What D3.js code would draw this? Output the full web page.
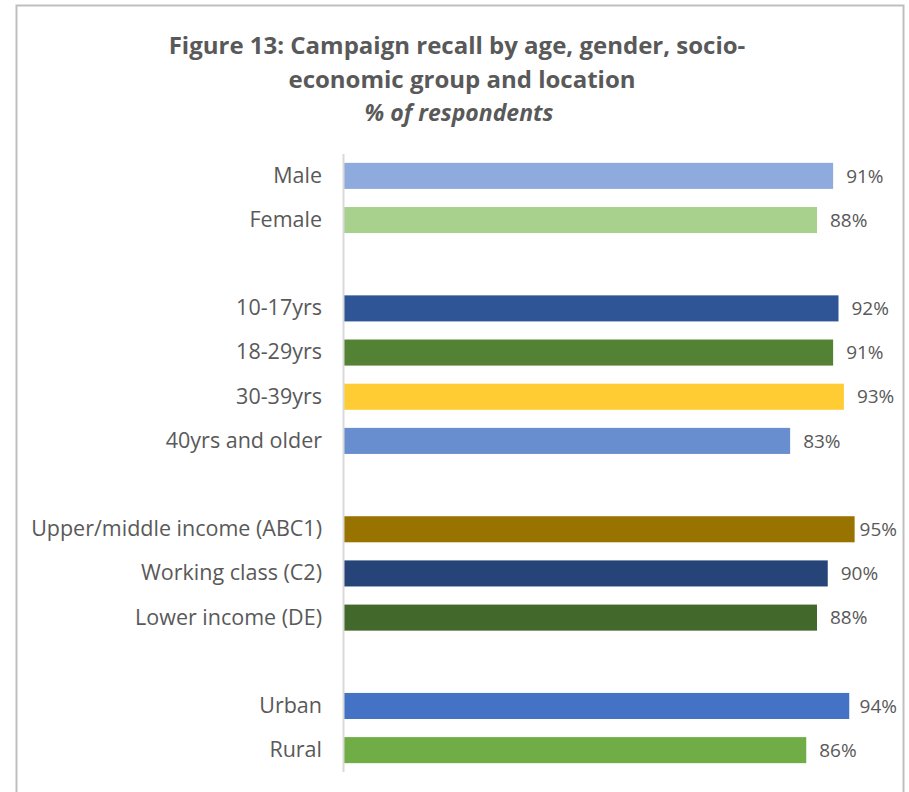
<!DOCTYPE html>
<html>
<head>
<meta charset="utf-8">
<script src="https://cdn.jsdelivr.net/npm/d3@7/dist/d3.min.js"></script>
<style>
  html, body { margin: 0; padding: 0; background: #ffffff; }
  svg { display: block; }
  text { font-family: "Open Sans", Lato, sans-serif; }
</style>
</head>
<body>
<svg id="chart" width="909" height="792"></svg>
<script>
// Category labels, top to bottom; empty strings are spacer rows between groups
const categories = [
  "Male", "Female", "",
  "10-17yrs", "18-29yrs", "30-39yrs", "40yrs and older", "",
  "Upper/middle income (ABC1)", "Working class (C2)", "Lower income (DE)", "",
  "Urban", "Rural"
];
// Campaign recall, % of respondents (null for spacer rows)
const values = [91, 88, null, 92, 91, 93, 83, null, 95, 90, 88, null, 94, 86];
const colors = [
  "#8FAADC", "#A9D18E", null,
  "#2F5597", "#548235", "#FFCC33", "#698ED0", null,
  "#997300", "#264478", "#43682B", null,
  "#4472C4", "#70AD47"
];
const titleLines = [
  "Figure 13: Campaign recall by age, gender, socio-",
  "economic group and location"
];
const subtitle = "% of respondents";

const svg = d3.select("#chart");
const textColor = "#595959";

// Outer chart frame
svg.append("rect")
  .attr("x", 16.5).attr("y", 5.5)
  .attr("width", 887).attr("height", 800)
  .attr("fill", "#ffffff")
  .attr("stroke", "#bfbfbf").attr("stroke-width", 2);

// Title
const titleX = [457, 462];
titleLines.forEach((t, i) => {
  svg.append("text")
    .attr("x", titleX[i]).attr("y", 54 + i * 34)
    .attr("text-anchor", "middle")
    .attr("font-size", 24).attr("font-weight", "bold")
    .attr("fill", textColor)
    .text(t);
});
svg.append("text")
  .attr("x", 459).attr("y", 121)
  .attr("text-anchor", "middle")
  .attr("font-size", 23).attr("font-weight", "bold").attr("font-style", "italic")
  .attr("fill", textColor)
  .text(subtitle);

// Scales
const idx = d3.range(categories.length);
const y = d3.scaleBand().domain(idx).range([154, 772]).paddingInner(0.41).paddingOuter(0.2);
const x = d3.scaleLinear().domain([0, 100]).range([344, 881.5]);

const rows = idx.filter(i => values[i] !== null).map(i => ({
  i, label: categories[i], value: values[i], color: colors[i]
}));

// Bars
svg.append("g").selectAll("rect")
  .data(rows).join("rect")
  .attr("x", x(0))
  .attr("y", d => y(d.i))
  .attr("width", d => x(d.value) - x(0))
  .attr("height", y.bandwidth())
  .attr("fill", d => d.color);

// Category axis
const axis = svg.append("g")
  .attr("transform", `translate(${x(0)},0)`)
  .call(d3.axisLeft(y).tickSize(0).tickPadding(22).tickFormat(i => categories[i]));
axis.select(".domain").attr("stroke", "#d9d9d9").attr("stroke-width", 2)
  .attr("d", `M-0.5,154V772`);
axis.selectAll("text")
  .attr("font-size", 21.5).attr("fill", textColor)
  .attr("font-family", "\"Open Sans\", Lato, sans-serif");

// Value labels, kept inside the plot area on the right
const rightLimit = 897;
svg.append("g").selectAll("text")
  .data(rows).join("text")
  .attr("y", d => y(d.i) + y.bandwidth() / 2)
  .attr("dy", "0.35em")
  .attr("font-size", 19).attr("fill", textColor)
  .text(d => d.value + "%")
  .attr("x", function (d) {
    const w = this.getComputedTextLength();
    return Math.min(x(d.value) + 13, rightLimit - w);
  });
</script>
</body>
</html>
